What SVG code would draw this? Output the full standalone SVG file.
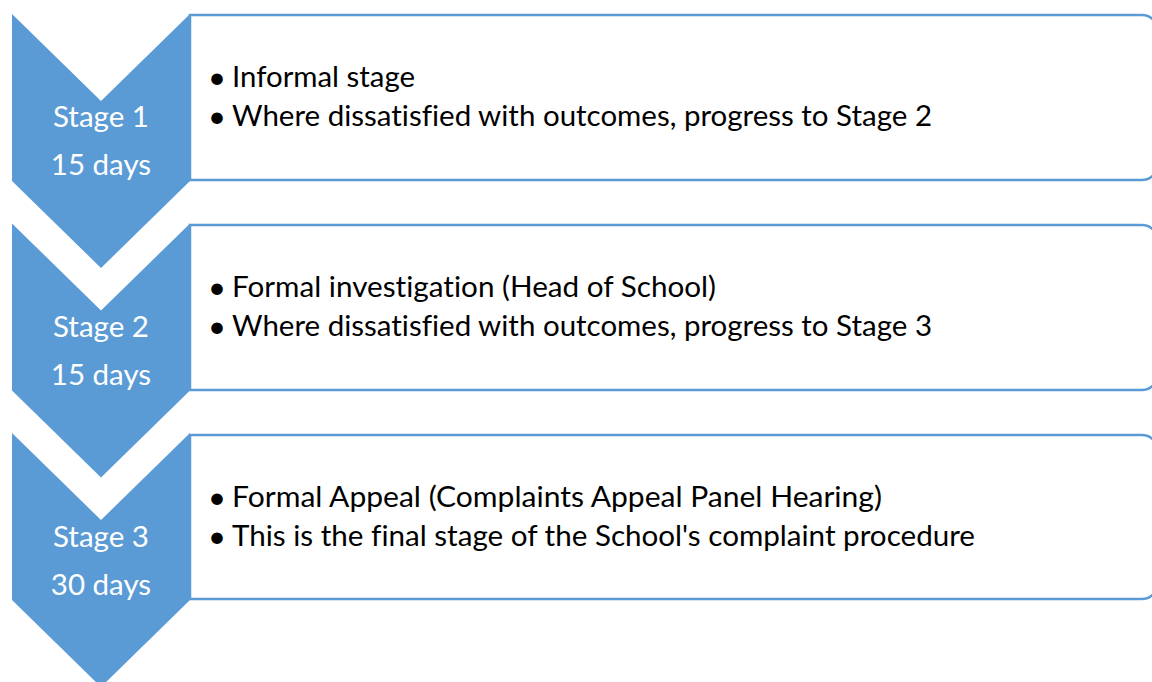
<svg xmlns="http://www.w3.org/2000/svg" width="1152" height="682" viewBox="0 0 1152 682">
<style>
.box{fill:#ffffff;stroke:#5B9BD5;stroke-width:2.5}
.chev{fill:#5B9BD5;stroke:none}
.lbl{font-family:Lato,"Open Sans","Liberation Sans",sans-serif;font-size:29.5px;fill:#ffffff;text-anchor:middle}
.txt{font-family:Lato,"Open Sans","Liberation Sans",sans-serif;font-size:29px;fill:#000000;font-variant-ligatures:none}
.bul{font-family:Lato,"Open Sans","Liberation Sans",sans-serif;font-size:31px;fill:#000000}
</style>
<rect width="1152" height="682" fill="#ffffff"/>
<g id="connectors"></g>
<g id="box1">
<path class="box" d="M190,15 H1142 A16,16 0 0 1 1158,31 V164 A16,16 0 0 1 1142,180 H190 Z"/>
<text class="bul" x="208" y="87.5">•</text>
<text class="txt" x="232" y="87" textLength="183" lengthAdjust="spacingAndGlyphs">Informal stage</text>
<text class="bul" x="208" y="126.5">•</text>
<text class="txt" x="232" y="126" textLength="700" lengthAdjust="spacingAndGlyphs">Where dissatisfied with outcomes, progress to Stage 2</text>
</g>
<g id="box2">
<path class="box" d="M190,225 H1142 A16,16 0 0 1 1158,241 V374 A16,16 0 0 1 1142,390 H190 Z"/>
<text class="bul" x="208" y="297.5">•</text>
<text class="txt" x="232" y="297" textLength="484" lengthAdjust="spacingAndGlyphs">Formal investigation (Head of School)</text>
<text class="bul" x="208" y="336.5">•</text>
<text class="txt" x="232" y="336" textLength="700" lengthAdjust="spacingAndGlyphs">Where dissatisfied with outcomes, progress to Stage 3</text>
</g>
<g id="box3">
<path class="box" d="M190,435 H1142 A16,16 0 0 1 1158,451 V583 A16,16 0 0 1 1142,599 H190 Z"/>
<text class="bul" x="208" y="507.5">•</text>
<text class="txt" x="232" y="507" textLength="650" lengthAdjust="spacingAndGlyphs">Formal Appeal (Complaints Appeal Panel Hearing)</text>
<text class="bul" x="208" y="546.5">•</text>
<text class="txt" x="232" y="546" textLength="743" lengthAdjust="spacingAndGlyphs">This is the final stage of the School's complaint procedure</text>
</g>
<g id="stage1">
<polygon class="chev" points="12,14 101,101 190,14 190,181 101,268 12,181"/>
<text class="lbl" x="101" y="127">Stage 1</text>
<text class="lbl" x="101" y="175">15 days</text>
</g>
<g id="stage2">
<polygon class="chev" points="12,223.5 101,310.5 190,223.5 190,390.5 101,477.5 12,390.5"/>
<text class="lbl" x="101" y="337">Stage 2</text>
<text class="lbl" x="101" y="385">15 days</text>
</g>
<g id="stage3">
<polygon class="chev" points="12,433 101,520 190,433 190,600 101,687 12,600"/>
<text class="lbl" x="101" y="547">Stage 3</text>
<text class="lbl" x="101" y="595">30 days</text>
</g>
</svg>
